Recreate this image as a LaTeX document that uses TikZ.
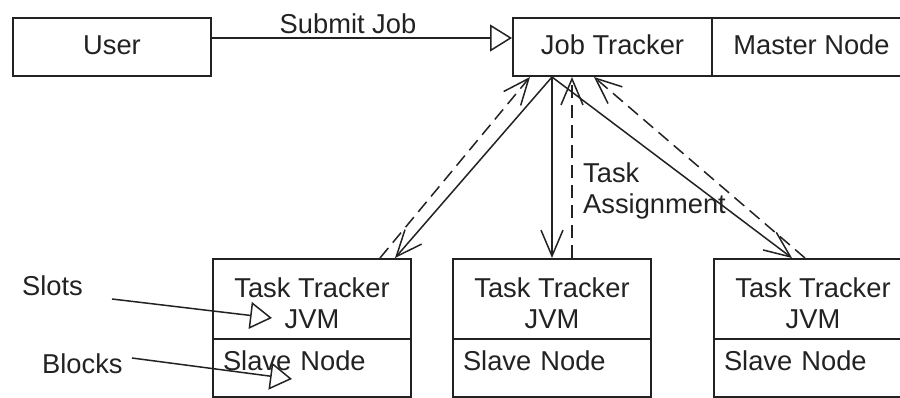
\documentclass[tikz,border=0pt]{standalone}
\usepackage{fontspec}
\setmainfont{Liberation Sans}
\usetikzlibrary{arrows.meta}
\definecolor{ink}{RGB}{34,34,34}
\begin{document}
\begin{tikzpicture}[x=1pt,y=-1pt,
  font=\fontsize{27.3pt}{31pt}\selectfont,
  box/.style={draw=ink, line width=2pt, rectangle, inner sep=0pt, anchor=north west,
    text=ink, text height=19.5pt, text depth=5.5pt},
  tracker/.style={box, minimum width=198pt, minimum height=80pt, align=center,
    text height=58pt, text depth=0pt},
  slave/.style={box, minimum height=58pt, text width=178pt, inner xsep=10pt, align=left, text depth=14pt},
  conn/.style={draw=ink, line width=1.5pt},
  barb/.style={-{Straight Barb[length=26pt,width=22pt,line width=1.5pt]}},
  hollow/.style={-{Triangle[open,length=22pt,width=27pt,line width=1.5pt]}},
  back/.style={dash pattern=on 13pt off 7pt},
  lbl/.style={text=ink, inner sep=0pt}
]
\useasboundingbox (0,0) rectangle (900,397);
\clip (0,0) rectangle (900,397);

% top row
\node[box, minimum width=198pt, minimum height=58pt] (user) at (12,17) {User};
\node[box, minimum width=199pt, minimum height=58pt] (jt) at (512,17) {Job Tracker};
\node[box, minimum width=199pt, minimum height=58pt] (master) at (711,17) {Master Node};

% slave machines
\node[tracker] (tt1) at (212,258) {Task Tracker\\JVM};
\node[slave] (sn1) at (212,338) {Slave Node};
\node[tracker] (tt2) at (452,258) {Task Tracker\\JVM};
\node[slave] (sn2) at (452,338) {Slave Node};
\node[tracker] (tt3) at (713,258) {Task Tracker\\JVM};
\node[slave] (sn3) at (713,338) {Slave Node};

% labels
\node[lbl, anchor=base] (submit) at (348,33) {Submit Job};
\node[lbl, anchor=base west, align=left] (assign) at (583,213) {Task\\Assignment};
\node[lbl, anchor=base west] (slots) at (22,295) {Slots};
\node[lbl, anchor=base west] (blocks) at (42,373) {Blocks};

% job submission
\draw[conn, hollow] ([yshift=-21pt]user.north east) -- ([yshift=-21pt]jt.north west);

% task assignment
\draw[conn, barb] ([xshift=40pt]jt.south west) -- ([xshift=183pt]tt1.north west);
\draw[conn, barb] ([xshift=40pt]jt.south west) -- ([xshift=100pt]tt2.north west);
\draw[conn, barb] ([xshift=40pt]jt.south west) -- ([xshift=79pt]tt3.north west);

% heartbeats back to the job tracker
\draw[conn, back, barb] ([xshift=168pt]tt1.north west) -- ([xshift=18pt]jt.south west);
\draw[conn, back, barb] ([xshift=120pt]tt2.north west) -- ([xshift=60pt]jt.south west);
\draw[conn, back, barb] ([xshift=92pt]tt3.north west) -- ([xshift=82pt]jt.south west);

% slots and blocks pointers
\coordinate (slotsfrom) at (112,299);
\coordinate (slotsto) at (272,318);
\coordinate (blocksfrom) at (132,358);
\coordinate (blocksto) at (292,379);
\draw[conn, hollow] (slotsfrom) -- (slotsto);
\draw[conn, hollow] (blocksfrom) -- (blocksto);
\end{tikzpicture}
\end{document}
